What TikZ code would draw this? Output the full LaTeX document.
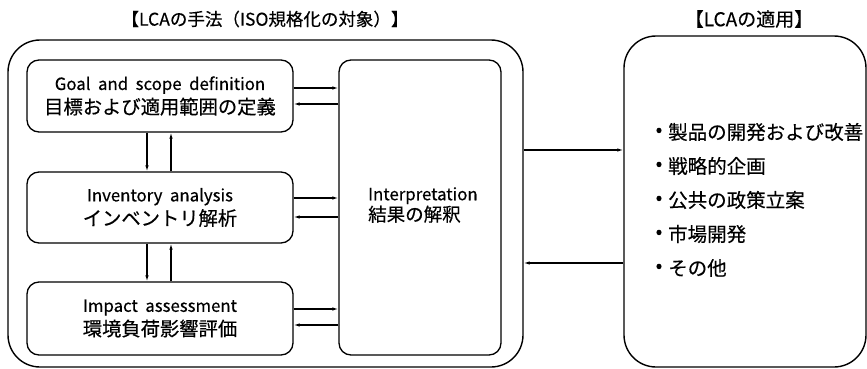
\documentclass[tikz,border=0pt]{standalone}
\usepackage{fontspec}
\setmainfont[FakeBold=0.4,AutoFakeBold=0.4]{Noto Sans CJK JP}
\newfontfamily\latin[FakeBold=0.4]{Noto Sans CJK JP}
\usetikzlibrary{arrows.meta}
\newcommand{\lat}[1]{{\latin\fontsize{16.8}{24}\selectfont #1}}
\begin{document}
\begin{tikzpicture}[x=1pt,y=-1pt,
 box/.style={draw,rounded corners=12pt,line width=1.3pt,inner sep=0pt},
 big/.style={draw,rounded corners=32pt,line width=1.4pt,inner sep=0pt},
 arr/.style={line width=1.1pt,-{Latex[length=6pt,width=3.5pt]}},
 lab/.style={font=\fontsize{19.3}{24}\selectfont,align=center},
 lst/.style={font=\fontsize{19.5}{23}\selectfont},
 ttl/.style={font=\fontsize{19}{20}\selectfont}
]
\useasboundingbox (0,0) rectangle (867,369);
\node[ttl,font=\fontsize{17.5}{20}\selectfont] (t1) at (265,19) {【{\latin LCA}の手法（{\latin ISO}規格化の対象）】};
\node[ttl] (t2) at (749,19) {【{\latin LCA}の適用】};
\node[big,minimum width=515pt,minimum height=327pt] (outer) at (265.5,203.5) {};
\node[big,minimum width=242pt,minimum height=331pt] (app) at (745,201.5) {};
\node[box,minimum width=266pt,minimum height=72pt,lab] (goal) at (160,96) {\lat{Goal\ \ and\ \ scope\ \ definition}\\目標および適用範囲の定義};
\node[box,minimum width=266pt,minimum height=71pt,lab] (inv) at (160,207.5) {\lat{Inventory\ \ analysis}\\インベントリ解析};
\node[box,minimum width=266pt,minimum height=73pt,lab] (imp) at (160,318.5) {\lat{Impact\ \ assessment}\\環境負荷影響評価};
\node[box,minimum width=162pt,minimum height=295pt] (interp) at (420,207.5) {};
\node[lab,align=left,anchor=west,font=\fontsize{18.5}{21}\selectfont,inner xsep=0pt] (itxt) at (368,205) {\lat{Interpretation}\\結果の解釈};
\draw[arr] (goal.east |- 0,88) -- (interp.west |- 0,88);
\draw[arr] (interp.west |- 0,104) -- (goal.east |- 0,104);
\draw[arr] (inv.east |- 0,198) -- (interp.west |- 0,198);
\draw[arr] (interp.west |- 0,217) -- (inv.east |- 0,217);
\draw[arr] (imp.east |- 0,309) -- (interp.west |- 0,309);
\draw[arr] (interp.west |- 0,325) -- (imp.east |- 0,325);
\draw[arr] (goal.south -| 147,0) -- (inv.north -| 147,0);
\draw[arr] (inv.north -| 171,0) -- (goal.south -| 171,0);
\draw[arr] (inv.south -| 147,0) -- (imp.north -| 147,0);
\draw[arr] (imp.north -| 171,0) -- (inv.south -| 171,0);
\draw[arr] (outer.east |- 0,150) -- (app.west |- 0,150);
\draw[arr] (app.west |- 0,263) -- (outer.east |- 0,263);
\foreach \i/\t/\y in {1/製品の開発および改善/132, 2/戦略的企画/166, 3/公共の政策立案/200, 4/市場開発/234, 5/その他/268}{
  \node[lst] (d\i) at (659,\y) {•};
  \node[lst,anchor=west,inner xsep=0pt] (l\i) at (668,\y) {\t};
}
\end{tikzpicture}
\end{document}
